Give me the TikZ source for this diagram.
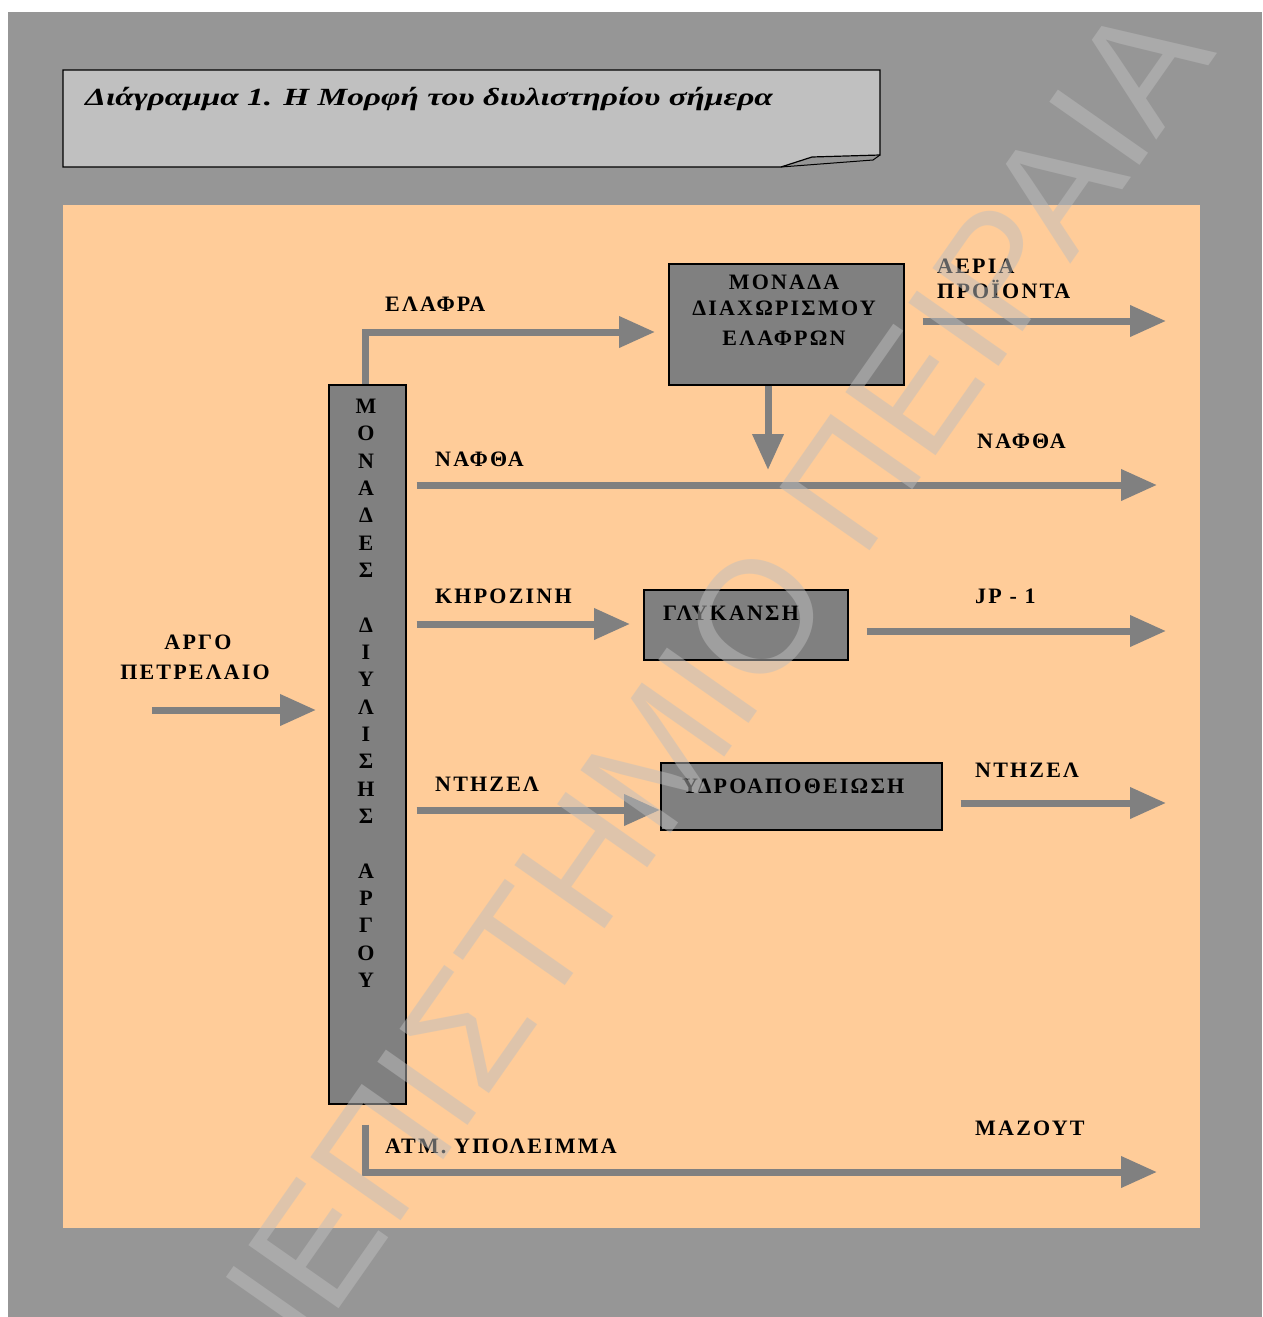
\documentclass[tikz,border=0pt]{standalone}
\usepackage{graphicx}
\usepackage{fontspec}
\setmainfont{Liberation Serif}
\newfontfamily\lblfont{Liberation Serif}[LetterSpace=10]
\newfontfamily\wmfont{Liberation Sans}
\usetikzlibrary{arrows.meta}
\definecolor{bggray}{RGB}{150,150,150}
\definecolor{peach}{RGB}{255,204,153}
\definecolor{boxgray}{RGB}{128,128,128}
\definecolor{titlegray}{RGB}{192,192,192}
\definecolor{wmgray}{RGB}{190,190,190}
\begin{document}
\begin{tikzpicture}[x=1pt,y=-1pt,
  unitbox/.style={draw=black, line width=1.5pt, fill=boxgray, inner sep=0pt, anchor=north west},
  lbl/.style={font=\lblfont\bfseries\fontsize{22}{26}\selectfont, inner sep=0pt, anchor=base west},
  flow/.style={draw=boxgray, line width=7pt, -{Triangle[length=36pt,width=30pt]}},
]
\useasboundingbox (0,0) rectangle (1262,1317);
\fill[white] (0,0) rectangle (1262,1317);
\fill[bggray] (8,12) rectangle (1262,1317);
\fill[peach] (63,205) rectangle (1200,1228);

% title
\draw[fill=titlegray, line width=1.2pt] (63,70) -- (880,70) -- (880,155) -- (812,157) -- (781,167) -- (63,167) -- cycle;
\draw[line width=1pt] (781,167) -- (873,160) -- (880,155);
\node[font=\bfseries\itshape\fontsize{24}{28}\selectfont, anchor=base west, inner sep=0pt] (title) at (85,105) {\scalebox{1.39}[1.03]{Διάγραμμα 1. Η Μορφή του διυλιστηρίου σήμερα}};

% boxes
\node[unitbox, minimum width=77pt, minimum height=719pt] (main) at (328,384) {};
\node[lbl, anchor=north, align=center, font=\lblfont\bfseries\fontsize{22}{27.33}\selectfont] (maintext) at (366,399) {Μ\\Ο\\Ν\\Α\\Δ\\Ε\\Σ\\~\\Δ\\Ι\\Υ\\Λ\\Ι\\Σ\\Η\\Σ\\~\\Α\\Ρ\\Γ\\Ο\\Υ};

\node[unitbox, minimum width=235pt, minimum height=121pt] (sep) at (668,263) {};
\node[lbl, anchor=north, align=center] (septext) at (784,275) {ΜΟΝΑΔΑ\\ΔΙΑΧΩΡΙΣΜΟΥ\\[4pt]ΕΛΑΦΡΩΝ};

\node[unitbox, minimum width=204pt, minimum height=70pt] (gly) at (643,589) {};
\node[lbl] (glytext) at (663,620) {ΓΛΥΚΑΝΣΗ};

\node[unitbox, minimum width=281pt, minimum height=67pt] (hdt) at (660,762) {};
\node[lbl] (hdttext) at (682,793) {ΥΔΡΟΑΠΟΘΕΙΩΣΗ};

% labels
\node[lbl] (lLight) at (385,311) {ΕΛΑΦΡΑ};
\node[lbl] (lNaph) at (435,466) {ΝΑΦΘΑ};
\node[lbl] (rNaph) at (977,448) {ΝΑΦΘΑ};
\node[lbl] (rGas1) at (937,273) {ΑΕΡΙΑ};
\node[lbl] (rGas2) at (937,298) {ΠΡΟΪΟΝΤΑ};
\node[lbl] (lKero) at (435,603) {ΚΗΡΟΖΙΝΗ};
\node[lbl] (rJP) at (975,603) {JP - 1};
\node[lbl] (lDsl) at (435,791) {ΝΤΗΖΕΛ};
\node[lbl] (rDsl) at (975,777) {ΝΤΗΖΕΛ};
\node[lbl] (lRes) at (385,1153) {ΑΤΜ. ΥΠΟΛΕΙΜΜΑ};
\node[lbl] (rMaz) at (975,1135) {ΜΑΖΟΥΤ};
\node[lbl, anchor=base] (lCrude1) at (198,649) {ΑΡΓΟ};
\node[lbl, anchor=base] (lCrude2) at (195,679) {ΠΕΤΡΕΛΑΙΟ};

% connectors
\coordinate (crudeS) at (152,710);
\coordinate (lightY) at (0,332);
\coordinate (sepDownEnd) at (768,470);
\coordinate (naphEnd) at (1157,485);
\coordinate (keroY) at (0,624);
\coordinate (dslY) at (0,810);
\coordinate (gasEnd) at (1166,321);
\coordinate (jpEnd) at (1166,631);
\coordinate (dslEnd) at (1166,803);
\coordinate (mazEnd) at (1157,1172);

\draw[flow, shorten >=12pt] (crudeS) -- (crudeS -| main.west);
\draw[flow, shorten >=13pt] ([xshift=-2pt]main.north) |- (sep.west |- lightY);
\draw[flow] (sep.south -| sepDownEnd) -- (sepDownEnd);
\draw[flow] ([xshift=10pt]main.east |- naphEnd) -- (naphEnd);
\draw[flow, shorten >=13pt] ([xshift=10pt]main.east |- keroY) -- (gly.west |- keroY);
\draw[flow] ([xshift=10pt]main.east |- dslY) -- (hdt.west |- dslY);
\draw[flow] ([xshift=18pt]sep.east |- gasEnd) -- (gasEnd);
\draw[flow] ([xshift=18pt]gly.east |- jpEnd) -- (jpEnd);
\draw[flow] ([xshift=18pt]hdt.east |- dslEnd) -- (dslEnd);
\draw[flow] ([xshift=-2pt,yshift=-20pt]main.south) |- (mazEnd);

% watermark
\begin{scope}
\clip (0,0) rectangle (1262,1317);
\node[font=\wmfont\fontsize{160}{160}\selectfont, text=wmgray, text opacity=0.5, rotate=55, inner sep=0pt] (wm) at (633,793) {ΠΑΝΕΠΙΣΤΗΜΙΟ ΠΕΙΡΑΙΑ};
\end{scope}
\end{tikzpicture}
\end{document}
